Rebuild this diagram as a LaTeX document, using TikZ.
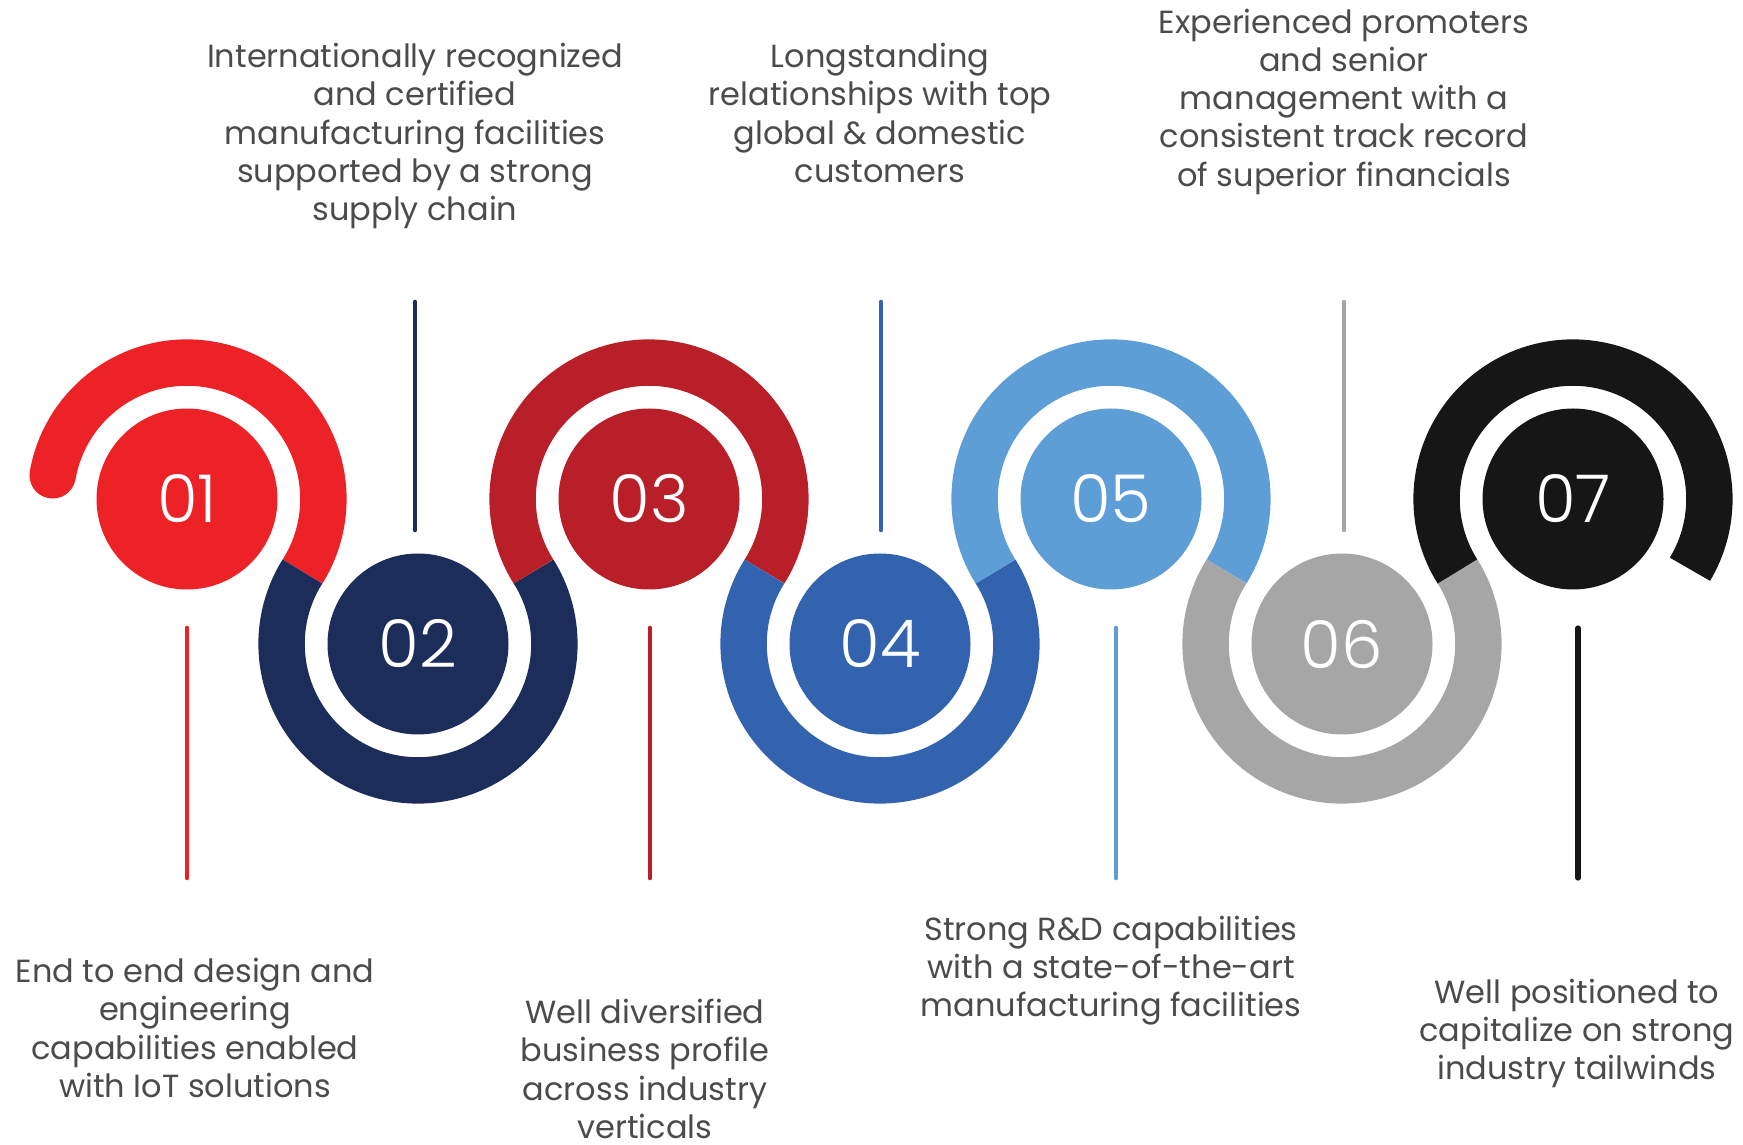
\documentclass[tikz,border=0pt]{standalone}
\usepackage{fontspec}
\setmainfont{Poppins}
\newfontfamily\numfont{Poppins Light}
\definecolor{col1}{HTML}{ED2227}
\definecolor{col2}{HTML}{1C2D59}
\definecolor{col3}{HTML}{B81F28}
\definecolor{col4}{HTML}{3363AE}
\definecolor{col5}{HTML}{5E9ED6}
\definecolor{col6}{HTML}{A6A6A6}
\definecolor{col7}{HTML}{161616}
\definecolor{txt}{HTML}{4B4B4D}
\begin{document}
\begin{tikzpicture}[x=1pt,y=1pt,
  ring/.style={line width=46.4pt},
  disc/.style={circle, minimum size=181pt, inner sep=0pt, text=white,
    font=\numfont\fontsize{66}{66}\selectfont},
  stem/.style={line width=4.6pt, line cap=round},
  desc/.style={align=center, text=txt, anchor=north, inner sep=0pt,
    font=\fontsize{32}{38.3}\selectfont}]
\useasboundingbox (0,0) rectangle (1743,1144);

% discs
\node[disc, fill=col1] (n1) at (187,645)  {01};
\node[disc, fill=col2] (n2) at (418,500)  {02};
\node[disc, fill=col3] (n3) at (649,645)  {03};
\node[disc, fill=col4] (n4) at (880,500)  {04};
\node[disc, fill=col5] (n5) at (1111,645) {05};
\node[disc, fill=col6] (n6) at (1342,500) {06};
\node[disc, fill=col7] (n7) at (1573,645) {07};

% rings
\draw[ring, col1] ([shift={(170:136.4)}]n1.center) arc[start angle=170, end angle=-32.1, radius=136.4];
\fill[col1] ([shift={(170:136.4)}]n1.center) circle[radius=23.2];
\draw[ring, col2] ([shift={(147.9:136.4)}]n2.center) arc[start angle=147.9, end angle=392.1, radius=136.4];
\draw[ring, col3] ([shift={(212.1:136.4)}]n3.center) arc[start angle=212.1, end angle=-32.1, radius=136.4];
\draw[ring, col4] ([shift={(147.9:136.4)}]n4.center) arc[start angle=147.9, end angle=392.1, radius=136.4];
\draw[ring, col5] ([shift={(212.1:136.4)}]n5.center) arc[start angle=212.1, end angle=-32.1, radius=136.4];
\draw[ring, col6] ([shift={(147.9:136.4)}]n6.center) arc[start angle=147.9, end angle=392.1, radius=136.4];
\draw[ring, col7] ([shift={(212.1:136.4)}]n7.center) arc[start angle=212.1, end angle=-31, radius=136.4];

% stems
\coordinate (s1a) at (187,516);  \coordinate (s1b) at (187,266);
\coordinate (s3a) at (650,516);  \coordinate (s3b) at (650,266);
\coordinate (s5a) at (1116,516); \coordinate (s5b) at (1116,266);
\coordinate (s7a) at (1578,516); \coordinate (s7b) at (1578,266);
\coordinate (s2a) at (415,842);  \coordinate (s2b) at (415,614);
\coordinate (s4a) at (881,842);  \coordinate (s4b) at (881,614);
\coordinate (s6a) at (1344,842); \coordinate (s6b) at (1344,614);
\draw[stem, col1] (s1a) -- (s1b);
\draw[stem, col3] (s3a) -- (s3b);
\draw[stem, col5] (s5a) -- (s5b);
\draw[stem, col7, line width=5.2pt] (s7a) -- (s7b);
\draw[stem, col2] (s2a) -- (s2b);
\draw[stem, col4] (s4a) -- (s4b);
\draw[stem, col6] (s6a) -- (s6b);

% descriptions
\node[desc] (t2) at (415,1101) {Internationally recognized\\and certified\\manufacturing facilities\\supported by a strong\\supply chain};
\node[desc] (t4) at (880,1101) {Longstanding\\relationships with top\\global \& domestic\\customers};
\node[desc] (t6) at (1344,1135.5) {Experienced promoters\\and senior\\management with a\\consistent track record\\of superior financials};
\node[desc] (t1) at (195,186) {End to end design and\\engineering\\capabilities enabled\\with IoT solutions};
\node[desc] (t3) at (645,145) {Well diversified\\business profile\\across industry\\verticals};
\node[desc] (t5) at (1111,228.5) {Strong R\&D capabilities\\with a state-of-the-art\\manufacturing facilities};
\node[desc] (t7) at (1577,165.5) {Well positioned to\\capitalize on strong\\industry tailwinds};
\end{tikzpicture}
\end{document}
